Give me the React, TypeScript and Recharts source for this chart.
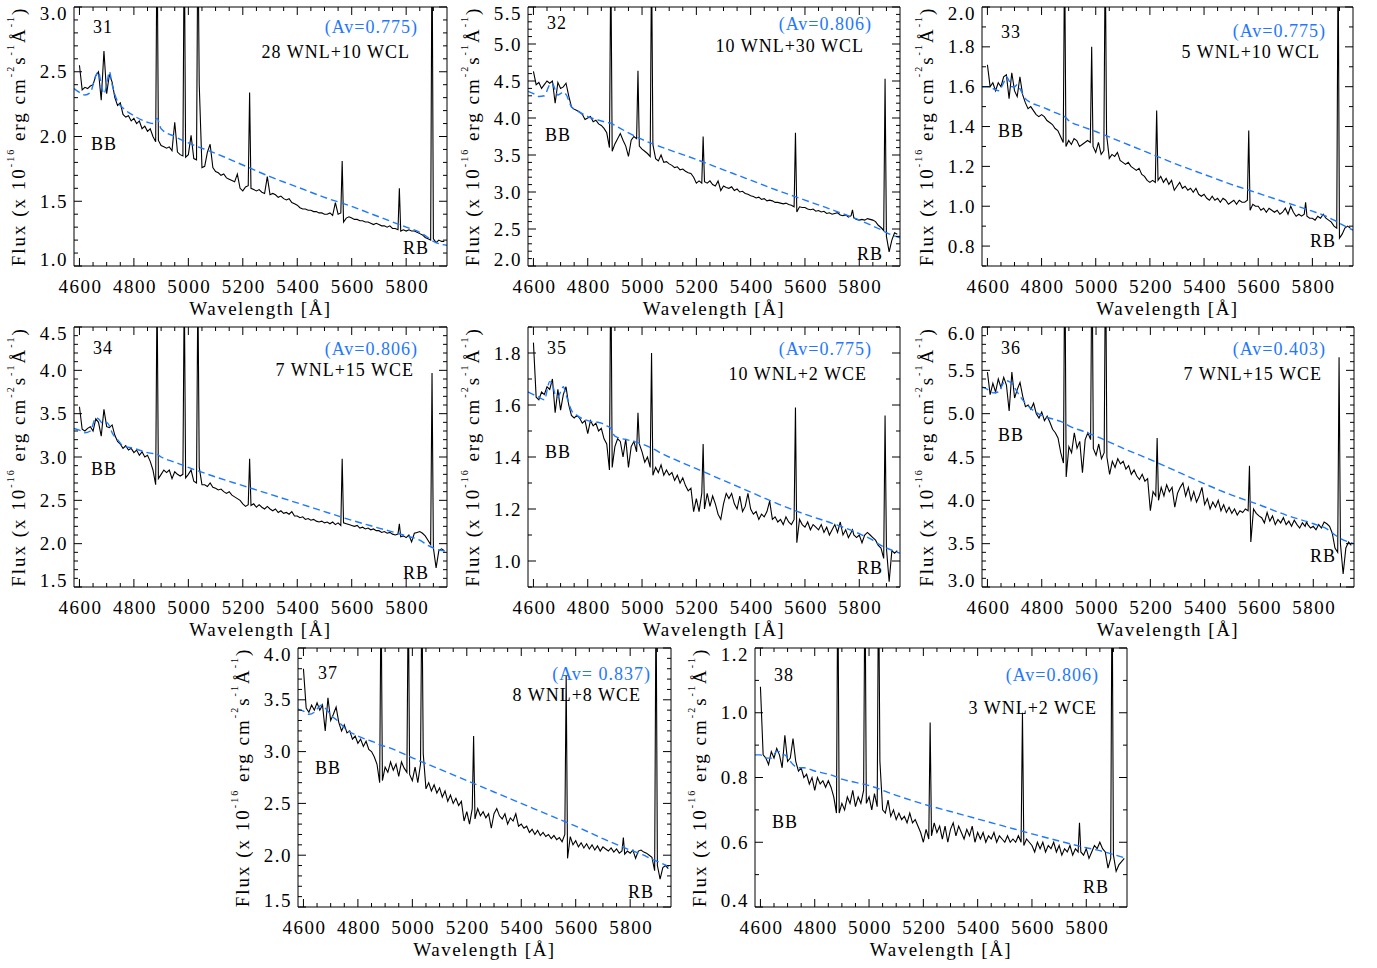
import React from 'react';
import { LineChart, Line, XAxis, YAxis } from 'recharts';

// ---------- data ----------
const WAVELENGTH = [
  4600, 4610, 4620, 4630, 4640, 4650, 4660, 4670, 4680, 4690,
  4700, 4710, 4720, 4730, 4740, 4750, 4760, 4770, 4780, 4790,
  4800, 4810, 4820, 4830, 4840, 4850, 4860, 4870, 4880, 4885, 4890,
  4900, 4910, 4920, 4930, 4940, 4950, 4960, 4970, 4980, 4985, 4990,
  5000, 5010, 5020, 5030, 5035, 5040, 5050, 5060, 5070, 5080, 5090,
  5100, 5110, 5120, 5130, 5140, 5150, 5160, 5170, 5180, 5190,
  5200, 5210, 5220, 5225, 5230, 5240, 5250, 5260, 5270, 5280, 5290,
  5300, 5310, 5320, 5330, 5340, 5350, 5360, 5370, 5380, 5390,
  5400, 5410, 5420, 5430, 5440, 5450, 5460, 5470, 5480, 5490,
  5500, 5510, 5520, 5530, 5540, 5550, 5560, 5565, 5570, 5580, 5590,
  5600, 5610, 5620, 5630, 5640, 5650, 5660, 5670, 5680, 5690,
  5700, 5710, 5720, 5730, 5740, 5750, 5760, 5770, 5775, 5780, 5790,
  5800, 5810, 5820, 5830, 5840, 5850, 5860, 5870, 5880, 5890, 5895, 5900, 5910, 5920, 5930, 5940,
];

const FLUX_31 = [
  2.55, 2.36, 2.38, 2.37, 2.39, 2.40, 2.47, 2.50, 2.28, 2.66,
  2.33, 2.48, 2.42, 2.30, 2.24, 2.26, 2.17, 2.15, 2.16, 2.12,
  2.14, 2.10, 2.12, 2.06, 2.08, 2.04, 2.06, 2.00, 1.96, 3.6, 1.97,
  1.93, 1.92, 1.91, 1.92, 1.89, 2.11, 1.88, 1.86, 1.85, 3.6, 1.84,
  1.86, 2.01, 1.83, 1.82, 3.6, 2.40, 1.76, 1.77, 1.88, 1.94, 1.76,
  1.73, 1.72, 1.70, 1.71, 1.68, 1.67, 1.66, 1.65, 1.71, 1.60,
  1.58, 1.61, 1.62, 2.34, 1.60, 1.59, 1.58, 1.59, 1.57, 1.56, 1.69,
  1.55, 1.56, 1.55, 1.53, 1.54, 1.52, 1.51, 1.52, 1.49, 1.48,
  1.47, 1.45, 1.44, 1.44, 1.43, 1.43, 1.42, 1.42, 1.41, 1.41,
  1.40, 1.40, 1.41, 1.39, 1.49, 1.40, 1.41, 1.81, 1.34, 1.37, 1.38,
  1.37, 1.36, 1.36, 1.35, 1.35, 1.34, 1.34, 1.33, 1.32, 1.33,
  1.32, 1.31, 1.31, 1.30, 1.31, 1.29, 1.29, 1.28, 1.60, 1.27, 1.28,
  1.27, 1.28, 1.27, 1.27, 1.26, 1.25, 1.24, 1.22, 1.21, 1.20, 3.6, 1.21, 1.18, 1.20, 1.19, 1.19,
];

const FLUX_32 = [
  4.63, 4.45, 4.48, 4.40, 4.45, 4.50, 4.47, 4.50, 4.20, 4.48,
  4.40, 4.42, 4.47, 4.30, 4.15, 4.12, 4.10, 4.08, 4.05, 3.98,
  4.00, 4.02, 3.95, 3.97, 3.92, 3.90, 3.86, 3.80, 3.60, 6.2, 3.55,
  3.65, 3.72, 3.79, 3.70, 3.62, 3.48, 3.70, 3.75, 3.72, 4.64, 3.62,
  3.58, 3.55, 3.52, 3.48, 6.2, 3.64, 3.45, 3.42, 3.50, 3.40, 3.41,
  3.38, 3.36, 3.33, 3.34, 3.30, 3.31, 3.28, 3.26, 3.25, 3.20,
  3.12, 3.15, 3.12, 3.75, 3.14, 3.12, 3.15, 3.10, 3.08, 3.15, 3.02,
  3.08, 3.06, 3.05, 3.07, 3.02, 3.04, 3.00, 3.01, 2.98, 2.97,
  2.95, 2.94, 2.92, 2.93, 2.90, 2.91, 2.88, 2.89, 2.88, 2.86,
  2.86, 2.85, 2.84, 2.85, 2.83, 2.82, 2.80, 3.80, 2.73, 2.80, 2.79,
  2.79, 2.77, 2.76, 2.77, 2.74, 2.75, 2.73, 2.74, 2.71, 2.72,
  2.70, 2.71, 2.72, 2.69, 2.68, 2.69, 2.66, 2.68, 2.76, 2.65, 2.63,
  2.62, 2.63, 2.62, 2.64, 2.63, 2.62, 2.60, 2.55, 2.52, 2.48, 4.53, 2.40, 2.19, 2.35, 2.45, 2.43,
];

const FLUX_33 = [
  1.71, 1.60, 1.62, 1.58, 1.62, 1.60, 1.65, 1.66, 1.54, 1.67,
  1.58, 1.55, 1.65, 1.56, 1.52, 1.49, 1.50, 1.48, 1.46, 1.45,
  1.46, 1.45, 1.43, 1.42, 1.41, 1.39, 1.38, 1.35, 1.32, 2.3, 1.30,
  1.33, 1.31, 1.34, 1.33, 1.30, 1.31, 1.32, 1.33, 1.32, 1.80, 1.30,
  1.27, 1.32, 1.26, 1.28, 2.3, 1.36, 1.24, 1.26, 1.25, 1.27, 1.23,
  1.22, 1.21, 1.22, 1.20, 1.19, 1.18, 1.19, 1.16, 1.15, 1.13,
  1.12, 1.13, 1.12, 1.48, 1.13, 1.15, 1.12, 1.14, 1.11, 1.13, 1.08,
  1.10, 1.12, 1.09, 1.10, 1.08, 1.09, 1.07, 1.09, 1.06, 1.05,
  1.06, 1.04, 1.03, 1.05, 1.03, 1.04, 1.02, 1.04, 1.03, 1.01,
  1.02, 1.03, 1.01, 1.03, 1.02, 1.02, 1.03, 1.38, 0.98, 1.01, 1.00,
  1.00, 0.98, 0.99, 0.97, 0.99, 0.98, 0.97, 0.98, 0.96, 0.97,
  0.99, 0.96, 1.00, 0.97, 0.95, 0.96, 0.95, 0.96, 1.02, 0.95, 0.94,
  0.94, 0.93, 0.95, 0.94, 0.96, 0.94, 0.93, 0.92, 0.90, 0.89, 2.3, 0.84, 0.86, 0.89, 0.90, 0.89,
];

const FLUX_34 = [
  3.58, 3.32, 3.30, 3.33, 3.35, 3.30, 3.44, 3.40, 3.24, 3.55,
  3.35, 3.34, 3.37, 3.25, 3.18, 3.15, 3.10, 3.13, 3.08, 3.10,
  3.05, 3.08, 3.02, 3.06, 3.00, 3.02, 2.95, 2.85, 2.68, 5.0, 2.75,
  2.80, 2.85, 2.82, 2.85, 2.75, 2.83, 2.80, 2.78, 2.80, 5.0, 2.76,
  2.80, 2.85, 2.72, 2.70, 5.0, 2.88, 2.68, 2.68, 2.66, 2.70, 2.65,
  2.64, 2.62, 2.63, 2.60, 2.58, 2.60, 2.56, 2.54, 2.52, 2.50,
  2.46, 2.43, 2.45, 2.98, 2.44, 2.46, 2.42, 2.45, 2.42, 2.40, 2.43,
  2.40, 2.38, 2.40, 2.36, 2.38, 2.35, 2.36, 2.34, 2.37, 2.32,
  2.32, 2.30, 2.31, 2.28, 2.29, 2.27, 2.28, 2.26, 2.25, 2.26,
  2.24, 2.25, 2.23, 2.25, 2.22, 2.24, 2.21, 2.98, 2.24, 2.23, 2.22,
  2.21, 2.20, 2.21, 2.18, 2.19, 2.17, 2.18, 2.16, 2.17, 2.15,
  2.15, 2.13, 2.14, 2.12, 2.13, 2.11, 2.10, 2.11, 2.23, 2.08, 2.09,
  2.07, 2.10, 2.02, 2.12, 2.13, 2.14, 2.12, 2.09, 2.04, 1.99, 3.97, 1.95, 1.72, 1.92, 1.94, 1.92,
];

const FLUX_35 = [
  1.84, 1.63, 1.62, 1.65, 1.64, 1.67, 1.66, 1.70, 1.57, 1.66,
  1.58, 1.64, 1.67, 1.60, 1.56, 1.55, 1.56, 1.55, 1.53, 1.54,
  1.49, 1.54, 1.52, 1.53, 1.50, 1.51, 1.47, 1.45, 1.35, 2.2, 1.36,
  1.44, 1.47, 1.46, 1.40, 1.47, 1.36, 1.44, 1.46, 1.42, 1.57, 1.45,
  1.42, 1.38, 1.40, 1.36, 1.80, 1.33, 1.36, 1.34, 1.37, 1.33, 1.35,
  1.33, 1.34, 1.31, 1.33, 1.30, 1.32, 1.29, 1.27, 1.28, 1.19,
  1.24, 1.19, 1.26, 1.45, 1.20, 1.26, 1.21, 1.25, 1.22, 1.18, 1.16,
  1.22, 1.26, 1.24, 1.26, 1.22, 1.20, 1.25, 1.19, 1.21, 1.26,
  1.20, 1.18, 1.19, 1.16, 1.18, 1.17, 1.19, 1.23, 1.16, 1.17,
  1.15, 1.16, 1.14, 1.17, 1.15, 1.14, 1.16, 1.59, 1.07, 1.16, 1.14,
  1.13, 1.15, 1.12, 1.14, 1.13, 1.12, 1.14, 1.11, 1.13, 1.10,
  1.12, 1.14, 1.11, 1.15, 1.10, 1.12, 1.09, 1.11, 1.12, 1.10, 1.09,
  1.10, 1.07, 1.10, 1.11, 1.10, 1.09, 1.08, 1.06, 1.05, 1.01, 1.56, 1.05, 0.92, 1.04, 1.03, 1.04,
];

const FLUX_36 = [
  5.48, 5.22, 5.35, 5.25, 5.40, 5.30, 5.42, 5.33, 5.03, 5.48,
  5.18, 5.28, 5.36, 5.20, 5.08, 5.10, 5.05, 5.12, 5.00, 4.95,
  5.02, 4.92, 4.97, 4.90, 4.82, 4.78, 4.72, 4.55, 4.43, 7.0, 4.27,
  4.62, 4.55, 4.78, 4.60, 4.68, 4.32, 4.70, 4.78, 4.70, 7.0, 4.60,
  4.52, 4.65, 4.48, 4.55, 7.0, 4.50, 4.30, 4.45, 4.38, 4.48, 4.42,
  4.45, 4.36, 4.40, 4.30, 4.35, 4.28, 4.24, 4.30, 4.22, 4.25,
  3.88, 4.10, 4.05, 4.72, 4.00, 4.15, 4.05, 4.18, 4.10, 4.15, 3.92,
  4.08, 4.15, 4.20, 4.05, 4.15, 4.00, 4.10, 3.98, 4.05, 4.15,
  3.95, 4.02, 3.90, 3.98, 3.92, 4.00, 3.88, 3.95, 3.86, 3.92,
  3.85, 3.90, 3.83, 3.88, 3.86, 3.90, 3.88, 4.40, 3.52, 3.90, 3.85,
  3.82, 3.80, 3.74, 3.86, 3.76, 3.82, 3.72, 3.78, 3.74, 3.80,
  3.72, 3.76, 3.70, 3.77, 3.72, 3.68, 3.74, 3.70, 3.75, 3.72, 3.68,
  3.70, 3.66, 3.72, 3.68, 3.75, 3.73, 3.70, 3.62, 3.45, 3.40, 5.65, 3.50, 3.15, 3.45, 3.52, 3.48,
];

const FLUX_37 = [
  3.80, 3.42, 3.38, 3.45, 3.40, 3.47, 3.40, 3.45, 3.20, 3.52,
  3.30, 3.36, 3.43, 3.28, 3.20, 3.26, 3.18, 3.20, 3.12, 3.15,
  3.08, 3.12, 3.05, 3.10, 3.02, 3.00, 2.95, 2.88, 2.70, 4.6, 2.72,
  2.85, 2.80, 2.90, 2.82, 2.88, 2.76, 2.90, 2.84, 2.80, 4.6, 2.78,
  2.72, 2.85, 2.70, 2.88, 4.6, 2.98, 2.64, 2.70, 2.62, 2.68, 2.60,
  2.65, 2.56, 2.62, 2.52, 2.58, 2.50, 2.55, 2.48, 2.52, 2.33,
  2.42, 2.30, 2.45, 3.15, 2.35, 2.45, 2.38, 2.42, 2.36, 2.40, 2.26,
  2.40, 2.45, 2.38, 2.35, 2.40, 2.30, 2.36, 2.33, 2.40, 2.28,
  2.30, 2.26, 2.28, 2.22, 2.25, 2.20, 2.24, 2.19, 2.22, 2.18,
  2.20, 2.16, 2.19, 2.15, 2.17, 2.13, 2.20, 3.74, 1.97, 2.18, 2.10,
  2.14, 2.08, 2.12, 2.07, 2.11, 2.06, 2.10, 2.05, 2.09, 2.04,
  2.08, 2.06, 2.04, 2.07, 2.03, 2.06, 2.02, 2.04, 2.17, 2.01, 2.04,
  2.02, 2.05, 1.97, 2.04, 2.05, 2.03, 2.02, 2.00, 1.98, 1.85, 4.6, 1.90, 1.77, 1.88, 1.90, 1.87,
];

const FLUX_38 = [
  1.08, 0.87, 0.86, 0.84, 0.88, 0.86, 0.89, 0.87, 0.83, 0.93,
  0.85, 0.86, 0.92, 0.85, 0.82, 0.83, 0.80, 0.81, 0.78, 0.80,
  0.76, 0.80, 0.78, 0.79, 0.77, 0.79, 0.77, 0.74, 0.69, 1.45, 0.69,
  0.72, 0.70, 0.74, 0.72, 0.76, 0.71, 0.74, 0.72, 0.76, 1.45, 0.72,
  0.74, 0.70, 0.75, 0.71, 1.45, 0.85, 0.70, 0.69, 0.73, 0.68, 0.70,
  0.67, 0.69, 0.67, 0.68, 0.66, 0.69, 0.66, 0.67, 0.65, 0.63,
  0.60, 0.64, 0.61, 0.97, 0.62, 0.66, 0.63, 0.65, 0.61, 0.65, 0.60,
  0.64, 0.66, 0.62, 0.65, 0.63, 0.61, 0.64, 0.62, 0.65, 0.60,
  0.63, 0.61, 0.63, 0.60, 0.62, 0.61, 0.63, 0.60, 0.62, 0.61,
  0.60, 0.62, 0.60, 0.61, 0.60, 0.62, 0.60, 1.00, 0.59, 0.61, 0.60,
  0.59, 0.57, 0.60, 0.58, 0.60, 0.57, 0.59, 0.58, 0.60, 0.57,
  0.59, 0.56, 0.58, 0.57, 0.59, 0.56, 0.58, 0.57, 0.66, 0.57, 0.56,
  0.58, 0.55, 0.57, 0.59, 0.58, 0.60, 0.58, 0.57, 0.52, 0.55, 1.45, 0.56, 0.51, 0.53, 0.54, 0.55,
];

// blue dashed model continua
const MODEL_WAVELENGTH = [
  4580, 4600, 4620, 4640, 4660, 4670, 4680, 4690, 4700, 4710, 4720, 4740, 4760, 4800, 4850, 4870,
  4885, 4900, 4950, 5000, 5100, 5200, 5300, 5400, 5500, 5600, 5700, 5800, 5850, 5880, 5900, 5950,
];
const MODEL_31 = [2.37, 2.34, 2.32, 2.34, 2.47, 2.50, 2.40, 2.33, 2.40, 2.50, 2.40, 2.27, 2.22, 2.16, 2.11, 2.10, 2.14, 2.06, 2.00, 1.95, 1.87, 1.78, 1.69, 1.61, 1.53, 1.46, 1.38, 1.30, 1.26, 1.22, 1.19, 1.16];
const MODEL_32 = [4.36, 4.33, 4.29, 4.30, 4.45, 4.47, 4.38, 4.31, 4.33, 4.35, 4.32, 4.15, 4.10, 4.02, 3.96, 3.94, 3.93, 3.90, 3.80, 3.71, 3.57, 3.44, 3.30, 3.16, 3.02, 2.89, 2.76, 2.62, 2.54, 2.49, 2.45, 2.38];
const MODEL_33 = [1.60, 1.60, 1.59, 1.58, 1.62, 1.65, 1.63, 1.60, 1.60, 1.61, 1.59, 1.54, 1.52, 1.50, 1.47, 1.46, 1.45, 1.43, 1.40, 1.375, 1.32, 1.265, 1.21, 1.16, 1.11, 1.065, 1.02, 0.975, 0.95, 0.93, 0.915, 0.88];
const MODEL_34 = [3.33, 3.31, 3.28, 3.30, 3.45, 3.44, 3.40, 3.38, 3.40, 3.36, 3.28, 3.20, 3.13, 3.10, 3.05, 3.04, 3.03, 3.00, 2.94, 2.88, 2.77, 2.67, 2.57, 2.47, 2.37, 2.27, 2.18, 2.09, 2.04, 1.98, 1.95, 1.91];
const MODEL_35 = [1.65, 1.64, 1.63, 1.62, 1.69, 1.68, 1.64, 1.63, 1.65, 1.67, 1.64, 1.58, 1.56, 1.54, 1.53, 1.52, 1.51, 1.48, 1.465, 1.45, 1.40, 1.355, 1.31, 1.265, 1.22, 1.18, 1.145, 1.105, 1.08, 1.06, 1.05, 1.03];
const MODEL_36 = [5.31, 5.28, 5.24, 5.25, 5.36, 5.38, 5.37, 5.35, 5.30, 5.25, 5.20, 5.12, 5.06, 4.98, 4.93, 4.91, 4.89, 4.86, 4.80, 4.74, 4.60, 4.47, 4.33, 4.19, 4.06, 3.95, 3.83, 3.73, 3.67, 3.60, 3.56, 3.50];
const MODEL_37 = [3.41, 3.39, 3.36, 3.38, 3.44, 3.45, 3.42, 3.39, 3.36, 3.33, 3.31, 3.26, 3.21, 3.15, 3.10, 3.08, 3.06, 3.05, 3.00, 2.94, 2.83, 2.72, 2.61, 2.50, 2.39, 2.28, 2.16, 2.05, 2.00, 1.96, 1.94, 1.88];
const MODEL_38 = [0.87, 0.87, 0.86, 0.86, 0.88, 0.88, 0.87, 0.87, 0.86, 0.85, 0.84, 0.83, 0.83, 0.82, 0.81, 0.805, 0.80, 0.795, 0.785, 0.775, 0.745, 0.718, 0.695, 0.672, 0.649, 0.626, 0.604, 0.583, 0.574, 0.567, 0.562, 0.55];

// tick labels
const X_MAJOR_TICKS = [4600, 4800, 5000, 5200, 5400, 5600, 5800];
const Y_MAJOR_31 = [1.0, 1.5, 2.0, 2.5, 3.0];
const Y_MAJOR_32 = [2.0, 2.5, 3.0, 3.5, 4.0, 4.5, 5.0, 5.5];
const Y_MAJOR_33 = [0.8, 1.0, 1.2, 1.4, 1.6, 1.8, 2.0];
const Y_MAJOR_34 = [1.5, 2.0, 2.5, 3.0, 3.5, 4.0, 4.5];
const Y_MAJOR_35 = [1.0, 1.2, 1.4, 1.6, 1.8];
const Y_MAJOR_36 = [3.0, 3.5, 4.0, 4.5, 5.0, 5.5, 6.0];
const Y_MAJOR_37 = [1.5, 2.0, 2.5, 3.0, 3.5, 4.0];
const Y_MAJOR_38 = [0.4, 0.6, 0.8, 1.0, 1.2];

const PANEL_IDS = ['31', '32', '33', '34', '35', '36', '37', '38'];
const AV_LABELS = ['(Av=0.775)', '(Av=0.806)', '(Av=0.775)', '(Av=0.806)', '(Av=0.775)', '(Av=0.403)', '(Av= 0.837)', '(Av=0.806)'];
const CLASS_LABELS = ['28 WNL+10 WCL', '10 WNL+30 WCL', '5 WNL+10 WCL', '7 WNL+15 WCE', '10 WNL+2 WCE', '7 WNL+15 WCE', '8 WNL+8 WCE', '3 WNL+2 WCE'];

const FLUXES = [FLUX_31, FLUX_32, FLUX_33, FLUX_34, FLUX_35, FLUX_36, FLUX_37, FLUX_38];
const MODELS = [MODEL_31, MODEL_32, MODEL_33, MODEL_34, MODEL_35, MODEL_36, MODEL_37, MODEL_38];

const SPECTRUM_TABLE = WAVELENGTH.map((wl, i) => {
  const row: any = { wl };
  PANEL_IDS.forEach((id, k) => { row['f' + id] = FLUXES[k][i]; });
  return row;
});
const MODEL_TABLE = MODEL_WAVELENGTH.map((wl, i) => {
  const row: any = { wl };
  PANEL_IDS.forEach((id, k) => { row['m' + id] = MODELS[k][i]; });
  return row;
});

// ---------- layout ----------
const X_DOMAIN: [number, number] = [4580, 5950];
const BLUE = '#1f78ff';
const FONT = '"Liberation Serif", "Times New Roman", serif';

type Panel = {
  box: [number, number, number, number];
  yDomain: [number, number];
  yMajor: number[];
  num: [number, number];
  av: [number, number];
  cls: [number, number];
  bb: [number, number];
  rb: [number, number];
};

const PANELS: Panel[] = [
  { box: [74, 7, 447, 266], yDomain: [1.0, 3.0], yMajor: Y_MAJOR_31, num: [29, 20], av: [29, 20], cls: [37, 45], bb: [17, 137], rb: [44, 241] },
  { box: [528, 7, 900, 266], yDomain: [2.0, 5.5], yMajor: Y_MAJOR_32, num: [29, 16], av: [28, 17], cls: [36, 39], bb: [17, 128], rb: [43, 247] },
  { box: [982, 7, 1353, 266], yDomain: [0.7, 2.0], yMajor: Y_MAJOR_33, num: [29, 25], av: [27, 24], cls: [33, 45], bb: [16, 124], rb: [43, 234] },
  { box: [74, 327, 447, 587], yDomain: [1.5, 4.5], yMajor: Y_MAJOR_34, num: [29, 21], av: [29, 22], cls: [33, 43], bb: [17, 142], rb: [44, 246] },
  { box: [528, 327, 900, 587], yDomain: [0.9, 1.9], yMajor: Y_MAJOR_35, num: [29, 21], av: [28, 22], cls: [33, 47], bb: [17, 125], rb: [43, 241] },
  { box: [982, 327, 1354, 587], yDomain: [3.0, 6.0], yMajor: Y_MAJOR_36, num: [29, 21], av: [28, 22], cls: [32, 47], bb: [16, 108], rb: [44, 229] },
  { box: [298, 648, 671, 907], yDomain: [1.5, 4.0], yMajor: Y_MAJOR_37, num: [30, 25], av: [20, 26], cls: [30, 47], bb: [17, 120], rb: [43, 244] },
  { box: [755, 648, 1127, 907], yDomain: [0.4, 1.2], yMajor: Y_MAJOR_38, num: [29, 27], av: [28, 27], cls: [30, 60], bb: [17, 174], rb: [44, 239] },
];

const LEFT_W = 75;
const TOP_M = 8;
const RIGHT_M = 12;
const BOTTOM_H = 55;

function stepTicks(lo: number, hi: number, step: number): number[] {
  const out: number[] = [];
  const n = Math.round((hi - lo) / step);
  for (let i = 0; i <= n; i++) out.push(Math.round((lo + i * step) * 1000) / 1000);
  return out;
}
const isMajor = (v: number, majors: number[]) => majors.some((m) => Math.abs(m - v) < 1e-6);

const X_TICKS = stepTicks(4600, 5900, 50);

const bottomTick = (p: any) => {
  const v = p.payload.value;
  const maj = isMajor(v, X_MAJOR_TICKS);
  return (
    <g>
      <line x1={p.x} y1={p.y} x2={p.x} y2={p.y - (maj ? 8 : 4)} stroke="#000" strokeWidth={1} />
      {maj && (
        <text x={p.x + 1} y={p.y + 27} textAnchor="middle" fontFamily={FONT} fontSize={19} letterSpacing={1.5} fill="#000">
          {v}
        </text>
      )}
    </g>
  );
};
const topTick = (p: any) => {
  const maj = isMajor(p.payload.value, X_MAJOR_TICKS);
  return <line x1={p.x} y1={p.y} x2={p.x} y2={p.y + (maj ? 8 : 4)} stroke="#000" strokeWidth={1} />;
};
const leftTick = (majors: number[], domain: [number, number]) => (p: any) => {
  const v = p.payload.value;
  const maj = isMajor(v, majors);
  let shift = 0;
  if (Math.abs(v - domain[1]) < 1e-6) shift = 6;
  if (Math.abs(v - domain[0]) < 1e-6) shift = -7;
  return (
    <g>
      <line x1={p.x} y1={p.y} x2={p.x + (maj ? 8 : 4)} y2={p.y} stroke="#000" strokeWidth={1} />
      {maj && (
        <text x={p.x - 6} y={p.y + 6.5 + shift} textAnchor="end" fontFamily={FONT} fontSize={19} letterSpacing={1.5} fill="#000">
          {v.toFixed(1)}
        </text>
      )}
    </g>
  );
};
const rightTick = (majors: number[]) => (p: any) => {
  const maj = isMajor(p.payload.value, majors);
  return <line x1={p.x} y1={p.y} x2={p.x - (maj ? 8 : 4)} y2={p.y} stroke="#000" strokeWidth={1} />;
};

function SpectrumPanel({ panel, idx }: { panel: Panel; idx: number }) {
  const [bl, bt, br, bb] = panel.box;
  const bw = br - bl;
  const bh = bb - bt;
  const W = bw + LEFT_W + RIGHT_M;
  const H = bh + TOP_M + BOTTOM_H;
  const id = PANEL_IDS[idx];
  const yTicks = stepTicks(panel.yDomain[0], panel.yDomain[1], 0.1);
  const textStyle = { fontFamily: FONT, fontSize: 18, letterSpacing: 1 } as any;
  const L = LEFT_W;
  const T = TOP_M;
  const R = LEFT_W + bw;
  return (
    <div style={{ position: 'absolute', left: bl - LEFT_W, top: bt - TOP_M, width: W, height: H }}>
      <LineChart width={W} height={H} data={SPECTRUM_TABLE} margin={{ top: TOP_M - 1, right: RIGHT_M - 1, bottom: 0, left: 0 }}>
        <XAxis xAxisId="b" dataKey="wl" type="number" domain={X_DOMAIN} allowDataOverflow ticks={X_TICKS} interval={0}
          tick={bottomTick} tickLine={false} tickSize={0} tickMargin={0} height={BOTTOM_H} axisLine={{ stroke: '#000', strokeWidth: 1 }} />
        <XAxis xAxisId="t" orientation="top" dataKey="wl" type="number" domain={X_DOMAIN} allowDataOverflow ticks={X_TICKS} interval={0}
          tick={topTick} tickLine={false} tickSize={0} tickMargin={0} height={1} axisLine={{ stroke: '#000', strokeWidth: 1 }} />
        <YAxis yAxisId="l" type="number" domain={panel.yDomain} allowDataOverflow ticks={yTicks} interval={0}
          tick={leftTick(panel.yMajor, panel.yDomain)} tickLine={false} tickSize={0} tickMargin={0} width={LEFT_W} axisLine={{ stroke: '#000', strokeWidth: 1 }} />
        <YAxis yAxisId="r" orientation="right" type="number" domain={panel.yDomain} allowDataOverflow ticks={yTicks} interval={0}
          tick={rightTick(panel.yMajor)} tickLine={false} tickSize={0} tickMargin={0} width={1} axisLine={{ stroke: '#000', strokeWidth: 1 }} />
        <Line xAxisId="b" yAxisId="l" type="linear" dataKey={'f' + id} stroke="#000" strokeWidth={1.1} dot={false} isAnimationActive={false} />
        <Line xAxisId="b" yAxisId="l" type="monotone" data={MODEL_TABLE} dataKey={'m' + id} stroke={BLUE} strokeWidth={1.4}
          strokeDasharray="7 4" dot={false} isAnimationActive={false} />
      </LineChart>
      <svg width={W} height={H} style={{ position: 'absolute', left: 0, top: 0, pointerEvents: 'none', overflow: 'visible' }}>
        <text x={L - 56} y={T + bh / 2} transform={`rotate(-90, ${L - 56}, ${T + bh / 2})`} textAnchor="middle"
          dominantBaseline="central" fontFamily={FONT} fontSize={19} letterSpacing={2} fill="#000">
          <tspan>Flux (x 10</tspan>
          <tspan fontSize={10} dy={-8}>-16</tspan>
          <tspan dy={8}> erg cm</tspan>
          <tspan fontSize={10} dy={-8}>-2</tspan>
          <tspan dy={8}>s</tspan>
          <tspan fontSize={10} dy={-8}>-1</tspan>
          <tspan dy={8}>Å</tspan>
          <tspan fontSize={10} dy={-8}>-1</tspan>
          <tspan dy={8}>)</tspan>
        </text>
        <text x={L + bw / 2} y={T + bh + 49} textAnchor="middle" fontFamily={FONT} fontSize={19} letterSpacing={1.5} fill="#000">
          Wavelength [Å]
        </text>
        <text x={L + panel.num[0]} y={T + panel.num[1]} textAnchor="middle" dominantBaseline="central" fill="#000" {...textStyle}>{id}</text>
        <text x={R - panel.av[0]} y={T + panel.av[1]} textAnchor="end" dominantBaseline="central" fill={BLUE} {...textStyle} style={{ whiteSpace: 'pre' }}>{AV_LABELS[idx]}</text>
        <text x={R - panel.cls[0]} y={T + panel.cls[1]} textAnchor="end" dominantBaseline="central" fill="#000" {...textStyle}>{CLASS_LABELS[idx]}</text>
        <text x={L + panel.bb[0]} y={T + panel.bb[1]} textAnchor="start" dominantBaseline="central" fill="#000" {...textStyle}>BB</text>
        <text x={R - panel.rb[0]} y={T + panel.rb[1]} textAnchor="start" dominantBaseline="central" fill="#000" {...textStyle}>RB</text>
      </svg>
    </div>
  );
}

export default function App() {
  return (
    <div style={{ position: 'absolute', left: 0, top: 0, width: 1377, height: 968, background: '#fff', overflow: 'hidden' }}>
      {PANELS.map((p, i) => (
        <SpectrumPanel key={PANEL_IDS[i]} panel={p} idx={i} />
      ))}
    </div>
  );
}
